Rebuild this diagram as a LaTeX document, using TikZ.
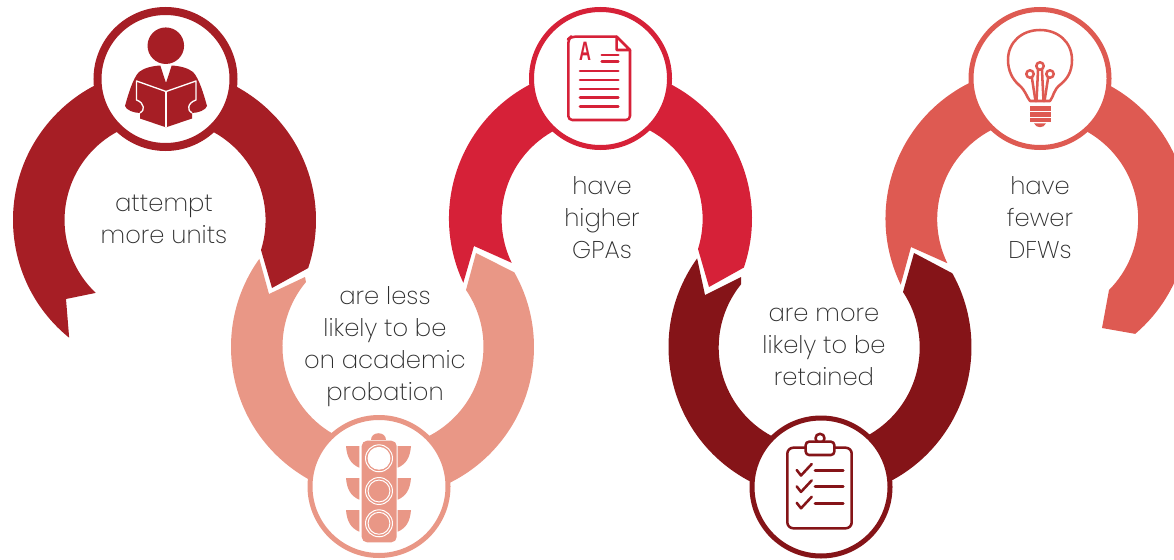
\documentclass[tikz,border=0pt]{standalone}
\usepackage{fontspec}
\setmainfont{Poppins}[UprightFont=* ExtraLight]
\newfontfamily\iconfont{Liberation Sans}[UprightFont=* Bold]
\definecolor{cA}{HTML}{A61E25}
\definecolor{cB}{HTML}{E99786}
\definecolor{cC}{HTML}{D62138}
\definecolor{cD}{HTML}{851418}
\definecolor{cE}{HTML}{DE5A52}
\definecolor{txt}{HTML}{2E2E2E}
\def\Ro{113.625pt}
\def\Ri{75.375pt}
\tikzset{
  hub/.style={circle,draw=#1,fill=white,inner sep=0pt,outer sep=0pt,line width=3.75pt,minimum size=103.5pt},
  label text/.style={text=txt,align=center,font=\fontsize{18.2pt}{24pt}\selectfont,inner sep=0pt},
  thin icon/.style={draw=#1,line width=1.9pt,line cap=round,line join=round},
  book line/.style={draw=white,line width=1pt,line join=round}
}
\begin{document}
\begin{tikzpicture}[x=0.75pt,y=-0.75pt]
\useasboundingbox (0,0) rectangle (1174,560);
\clip (0,0) rectangle (1174,560);
% ring segments
\fill[cA] (164.5,220) ++(231:\Ro) arc[start angle=231,end angle=-18.5,radius=\Ro]
  -- (272,288) -- (261,250) arc[start angle=-17.3,end angle=226.4,radius=\Ri] -- (66,299) -- cycle;
\fill[cB] (382.5,347) ++(144.4:\Ro) arc[start angle=144.4,end angle=389.5,radius=\Ro]
  -- (476,253) -- (466,290) arc[start angle=394.3,end angle=140,radius=\Ri] -- (305,277) -- (269,294) -- cycle;
\fill[cC] (600.5,218.5) ++(205.1:\Ro) arc[start angle=205.1,end angle=-18.9,radius=\Ro]
  -- (709,287) -- (698,249) arc[start angle=-17.4,end angle=205.9,radius=\Ri] -- (474,246) -- cycle;
\fill[cD] (820,347) ++(144.2:\Ro) arc[start angle=144.2,end angle=389.1,radius=\Ro]
  -- (914,253) -- (903,292) arc[start angle=393.5,end angle=141,radius=\Ri] -- (741,277) -- (705,295) -- cycle;
\fill[cE] (1037,218.5) ++(205.9:\Ro) arc[start angle=205.9,end angle=-49.6,radius=\Ro]
  -- (1102,328) -- (1109,290) arc[start angle=-44.8,end angle=206,radius=\Ri] -- (911,247) -- cycle;
% hubs
\node[hub=cA,line width=6pt,minimum size=102pt] (h1) at (165.5,79) {};
\node[hub=cB] (h2) at (379,486.5) {};
\node[hub=cC] (h3) at (600.5,78.5) {};
\node[hub=cD] (h4) at (821,487) {};
\node[hub=cE] (h5) at (1040,78.5) {};
% labels
\node[label text] (t1) at (164,219) {attempt\\more units};
\node[label text] (t2) at (385,347) {are less\\likely to be\\on academic\\probation};
\node[label text] (t3) at (602,218) {have\\higher\\GPAs};
\node[label text] (t4) at (824,346.5) {are more\\likely to be\\retained};
\node[label text] (t5) at (1040,218) {have\\fewer\\DFWs};
% reader icon
\fill[cA] (165.8,45.7) circle[radius=13.7pt];
\fill[cA] (160.3,65.5) -- (166,83) -- (171.7,65.5) .. controls (180,66) and (188,68) .. (193,72)
  .. controls (199,78) and (204,95) .. (207,106) .. controls (206,110) and (198,113) .. (192,113)
  -- (192,118.5) -- (167,127) -- (165,127) -- (140,118.5) -- (140,113)
  .. controls (134,113) and (126,110) .. (125,106) .. controls (128,95) and (133,78) .. (139,72)
  .. controls (144,68) and (152,66) .. (160.3,65.5) -- cycle;
\draw[book line] (192,113) .. controls (187,111) and (187,103) .. (196,100) -- (196,81) -- (166,91.5) -- (136.5,81) -- (136.5,100)
  .. controls (145,103) and (145,111) .. (140,113);
\draw[book line] (166,91.5) -- (166,127);
% traffic light icon
\fill[cB,rounded corners=4pt] (361.7,440.7) rectangle (396.7,542.3);
\fill[cB] (371,439.5) .. controls (371,431) and (386,431) .. (386,439.5) -- cycle;
\foreach \yy in {446,478,510}{
  \fill[cB] (346,\yy) -- (359.3,\yy) -- (359.3,\yy+21.7) .. controls (351,\yy+18) and (347,\yy+12) .. (346,\yy) -- cycle;
  \fill[cB] (411,\yy) -- (397.7,\yy) -- (397.7,\yy+21.7) .. controls (406,\yy+18) and (410,\yy+12) .. (411,\yy) -- cycle;
}
\foreach \yy in {458.3,491,523.3}{
  \draw[white,line width=.75pt] (379,\yy) circle[radius=10.1pt];
  \draw[white,line width=.75pt] (379,\yy) circle[radius=8.2pt];
}
\fill[white] (379,458.3) circle[radius=8.2pt];
% document icon
\draw[thin icon=cC,rounded corners=3pt] (616.7,36.7) -- (571,36.7) -- (568.3,39) -- (568.3,120) -- (630,120) -- (630,50);
\draw[thin icon=cC] (616.7,36.7) -- (630,50) -- (616.7,50) -- cycle;
\foreach \yy in {71,80,89,97.7,106.7}{\draw[thin icon=cC] (580,\yy) -- (618.3,\yy);}
\draw[thin icon=cC] (601.7,55) -- (618.3,55);
\draw[thin icon=cC] (601.7,61.7) -- (618.3,61.7);
\node[text=cC,font=\iconfont\fontsize{20pt}{20pt}\selectfont,xscale=.62,inner sep=0pt] (letA) at (585,51.5) {A};
% clipboard icon
\draw[thin icon=cD,rounded corners=4.5pt,fill=white] (787.3,447.7) rectangle (851.7,528.3);
\draw[thin icon=cD,fill=white] (820,438.3) circle[radius=3.4pt];
\draw[thin icon=cD,rounded corners=2.5pt,fill=white] (805.7,441.7) rectangle (834.3,455);
\foreach \yy in {0,16.4,32.8}{
  \draw[thin icon=cD] (796.7,470+\yy) -- (801,475.5+\yy) -- (811.7,464+\yy);
}
\foreach \yy in {470.7,486.7,503.3}{\draw[thin icon=cD] (815,\yy) -- (843.3,\yy);}
% bulb icon
\draw[thin icon=cE] (1030,101) .. controls (1026,96) and (1026,91) .. (1019,85)
  .. controls (1012,79) and (1008,70) .. (1008,60)
  .. controls (1008,42) and (1022,30) .. (1040,30)
  .. controls (1058,30) and (1072,42) .. (1072,60)
  .. controls (1072,72) and (1067,79) .. (1061,84)
  .. controls (1053,90) and (1054,96) .. (1050,101) -- cycle;
\draw[thin icon=cE] (1040,66) circle[radius=2.8pt];
\draw[thin icon=cE] (1030,74) circle[radius=2.8pt];
\draw[thin icon=cE] (1050,74) circle[radius=2.8pt];
\draw[thin icon=cE] (1032,78.5) -- (1035.5,101);
\draw[thin icon=cE] (1048,78.5) -- (1044.5,101);
\draw[thin icon=cE] (1038,70.5) -- (1036.5,101);
\draw[thin icon=cE] (1042,70.5) -- (1043.5,101);
\fill[cE] (1030,106) rectangle (1050.7,110.7);
\fill[cE] (1030,112.3) rectangle (1050.7,116.7);
\fill[cE] (1030,118.3) rectangle (1050.7,121.7);
\fill[cE] (1034,123.3) .. controls (1036,128.5) and (1044,128.5) .. (1046,123.3) -- cycle;
\end{tikzpicture}
\end{document}
